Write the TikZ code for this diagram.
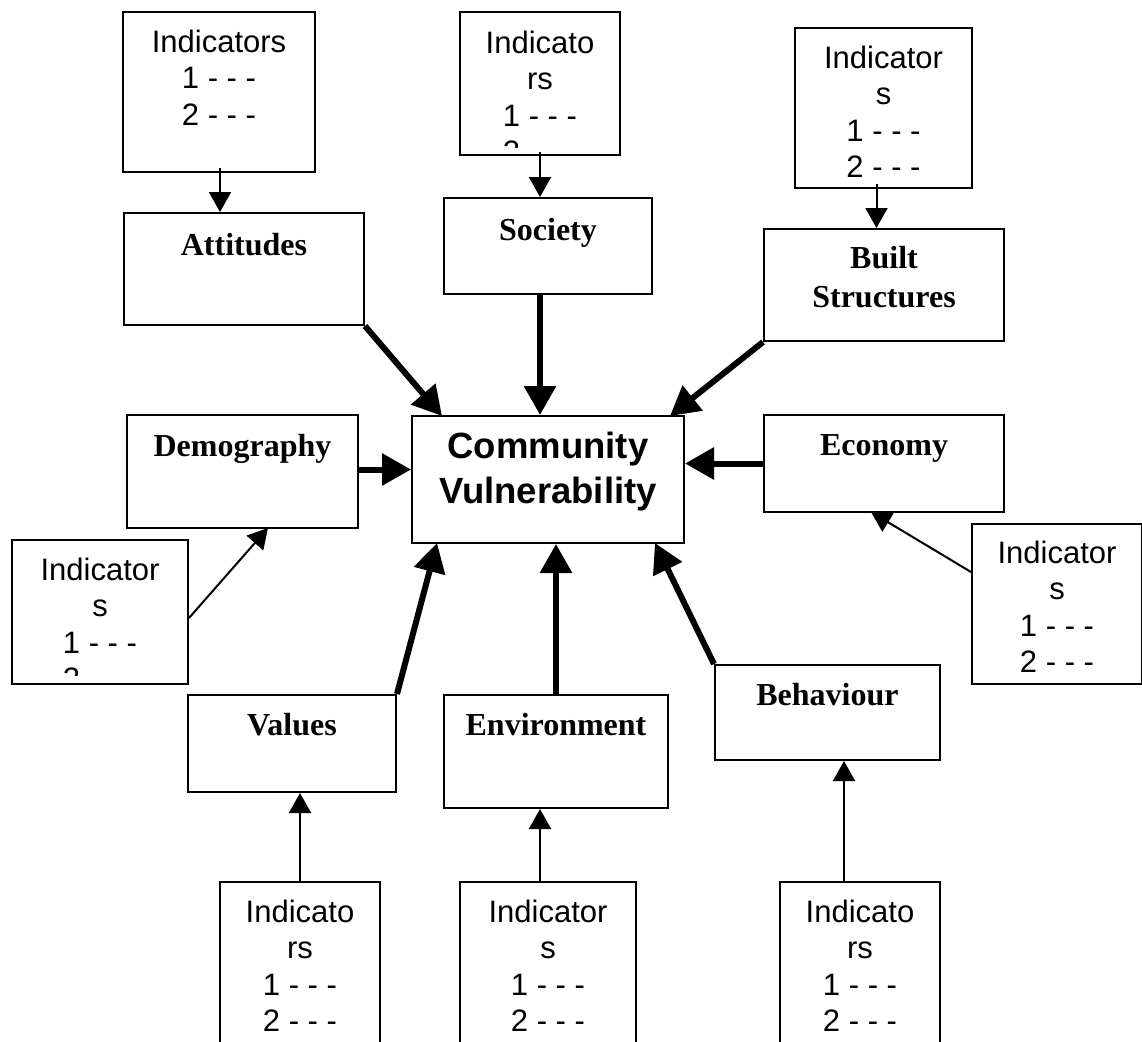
\documentclass[tikz,border=0pt]{standalone}
\usepackage{fontspec}
\setmainfont{Liberation Serif}
\newfontfamily\arialf{Liberation Sans}
\usetikzlibrary{arrows.meta,calc}
\begin{document}
\begin{tikzpicture}[x=1pt,y=-1pt,
  box/.style={draw, line width=2pt, rectangle, inner sep=0pt, anchor=north west},
  lbl/.style={font=\fontsize{32}{39}\selectfont\bfseries, anchor=base, align=center, inner sep=0pt},
  ctext/.style={font=\arialf\bfseries\fontsize{36.5}{45}\selectfont, anchor=base, align=center, inner sep=0pt},
  ind/.style={font=\arialf\fontsize{31}{36.5}\selectfont, anchor=base, align=center, inner sep=0pt},
  thinarr/.style={line width=2pt, -{Triangle[length=20pt,width=22pt]}},
  thickarr/.style={line width=6pt, -{Triangle[length=29pt,width=31pt]}},
]
\useasboundingbox (0,0) rectangle (1142,1041);
\fill[white] (0,0) rectangle (1142,1041);
\clip (0,0) rectangle (1142,1041);

% main boxes
\node[box, minimum width=240pt, minimum height=112pt] (att) at (123,212) {};
\node[box, minimum width=208pt, minimum height=96pt]  (soc) at (443,197) {};
\node[box, minimum width=240pt, minimum height=112pt] (bui) at (763,228) {};
\node[box, minimum width=231pt, minimum height=113pt] (dem) at (126,414) {};
\node[box, minimum width=272pt, minimum height=127pt] (com) at (411,415) {};
\node[box, minimum width=240pt, minimum height=97pt]  (eco) at (763,414) {};
\node[box, minimum width=208pt, minimum height=97pt]  (val) at (187,694) {};
\node[box, minimum width=224pt, minimum height=113pt] (env) at (443,694) {};
\node[box, minimum width=225pt, minimum height=95pt]  (beh) at (714,664) {};

% labels (anchor base = baseline of the last line)
\node[lbl] (attT) at ($(att.north)+(0,43)$) {Attitudes};
\node[lbl] (socT) at ($(soc.north)+(0,43)$) {Society};
\node[lbl] (buiT) at ($(bui.north)+(0,79)$) {Built\\Structures};
\node[lbl] (demT) at ($(dem.north)+(0,42)$) {Demography};
\node[ctext] (comT) at ($(com.north)+(0,88)$) {Community\\Vulnerability};
\node[lbl] (ecoT) at ($(eco.north)+(0,41)$) {Economy};
\node[lbl] (valT) at ($(val.north)+(0,41)$) {Values};
\node[lbl] (envT) at ($(env.north)+(0,41)$) {Environment};
\node[lbl] (behT) at ($(beh.north)+(0,41)$) {Behaviour};

% indicator boxes
\node[box, minimum width=192pt, minimum height=160pt] (iA) at (122,11) {};
\node[box, minimum width=160pt, minimum height=143pt] (iS) at (459,11) {};
\node[box, minimum width=177pt, minimum height=160pt] (iB) at (794,27) {};
\node[box, minimum width=176pt, minimum height=144pt] (iD) at (11,539) {};
\node[box, minimum width=170pt, minimum height=160pt] (iE) at (971,523) {};
\node[box, minimum width=160pt, minimum height=180pt] (iV) at (219,881) {};
\node[box, minimum width=176pt, minimum height=180pt] (iN) at (459,881) {};
\node[box, minimum width=160pt, minimum height=180pt] (iH) at (779,881) {};

\node[ind] (iAT) at ($(iA.north)+(0,114)$) {Indicators\\1 - - -\\2 - - -};
\begin{scope}
  \clip (iS.north west) rectangle ($(iS.south east)+(0,-9)$);
  \node[ind] (iST) at ($(iS.north)+(0,151.5)$) {Indicato\\rs\\1 - - -\\2 - - -};
\end{scope}
\node[ind] (iBT) at ($(iB.north)+(0,150.5)$) {Indicator\\s\\1 - - -\\2 - - -};
\begin{scope}
  \clip (iD.north west) rectangle ($(iD.south east)+(0,-10)$);
  \node[ind] (iDT) at ($(iD.north)+(0,150.5)$) {Indicator\\s\\1 - - -\\2 - - -};
\end{scope}
\node[ind] (iET) at ($(iE.north)+(0,149.5)$) {Indicator\\s\\1 - - -\\2 - - -};
\node[ind] (iVT) at ($(iV.north)+(0,150.5)$) {Indicato\\rs\\1 - - -\\2 - - -};
\node[ind] (iNT) at ($(iN.north)+(0,150.5)$) {Indicator\\s\\1 - - -\\2 - - -};
\node[ind] (iHT) at ($(iH.north)+(0,150.5)$) {Indicato\\rs\\1 - - -\\2 - - -};

% connector end points
\coordinate (pA) at ($(iA.south)+(1,-5)$);
\coordinate (pS) at ($(iS.south)+(0,-4)$);
\coordinate (pB) at ($(iB.south)+(-7,-5)$);
\coordinate (pD) at ($(iD.north east)+(0,79)$);
\coordinate (qD) at ($(dem.south)+(25.5,-1)$);
\coordinate (pE) at ($(iE.north west)+(0,49)$);
\coordinate (qE) at ($(eco.south)+(-13,-1)$);
\coordinate (pN) at ($(iN.north)+(-8,0)$);
\coordinate (pH) at ($(iH.north)+(-16,0)$);
\coordinate (cA) at ($(com.north west)+(31,1)$);
\coordinate (pSo) at ($(soc.south)+(-8,0)$);
\coordinate (cB) at ($(com.north east)+(-15,1)$);
\coordinate (pDe) at ($(dem.east)+(0,-2)$);
\coordinate (cV) at ($(com.south west)+(26,-1)$);
\coordinate (cH) at ($(com.south east)+(-30,-1)$);

% thin connectors
\draw[thinarr] (pA) -- (pA |- att.north);
\draw[thinarr] (pS) -- (pS |- soc.north);
\draw[thinarr] (pB) -- (pB |- bui.north);
\draw[thinarr] (pD) -- (qD);
\draw[thinarr] (pE) -- (qE);
\draw[thinarr] (iV.north) -- (iV.north |- val.south);
\draw[thinarr] (pN) -- (pN |- env.south);
\draw[thinarr] (pH) -- (pH |- beh.south);

% thick connectors
\draw[thickarr] (att.south east) -- (cA);
\draw[thickarr] (pSo) -- (pSo |- com.north);
\draw[thickarr] (bui.south west) -- (cB);
\draw[thickarr] (pDe) -- (pDe -| com.west);
\draw[thickarr] (eco.west) -- (eco.west -| com.east);
\draw[thickarr] (val.north east) -- (cV);
\draw[thickarr] (env.north) -- (env.north |- com.south);
\draw[thickarr] (beh.north west) -- (cH);
\end{tikzpicture}
\end{document}
